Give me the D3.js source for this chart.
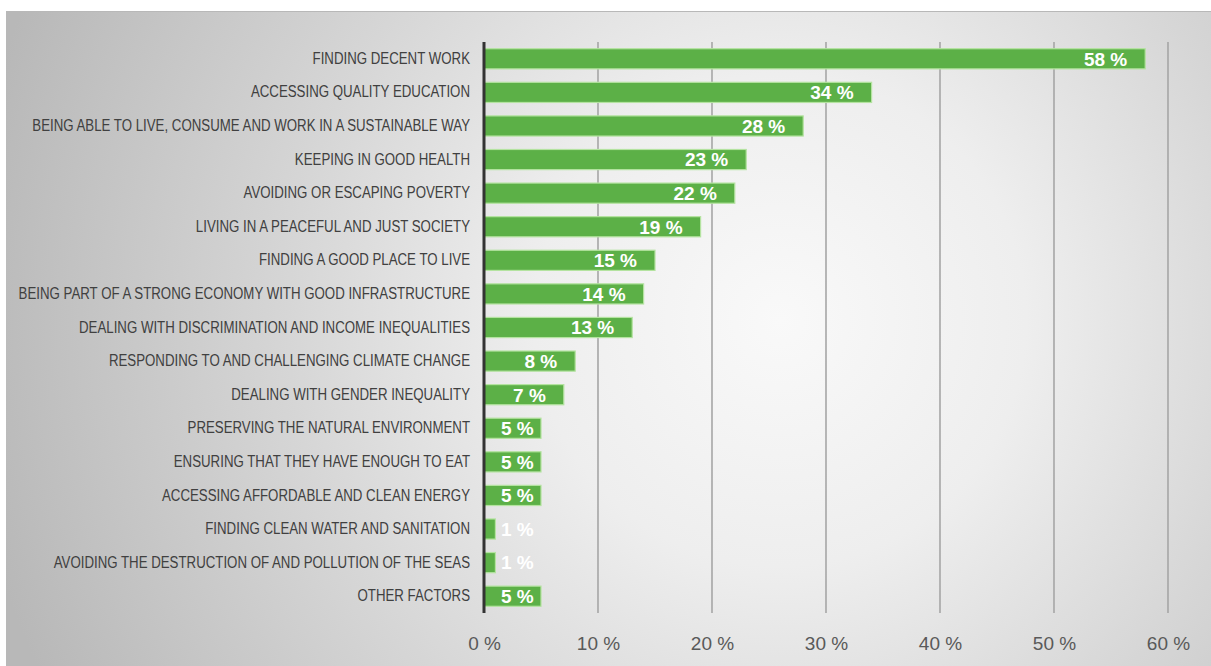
<!DOCTYPE html>
<html>
<head>
<meta charset="utf-8">
<script src="https://cdn.jsdelivr.net/npm/d3@7"></script>
<style>
  html, body { margin: 0; padding: 0; background: #ffffff; }
  svg { display: block; }
</style>
</head>
<body>
<svg id="chart" width="1211" height="666"></svg>
<script>
// Share of respondents naming each factor
const categories = [
  "FINDING DECENT WORK",
  "ACCESSING QUALITY EDUCATION",
  "BEING ABLE TO LIVE, CONSUME AND WORK IN A SUSTAINABLE WAY",
  "KEEPING IN GOOD HEALTH",
  "AVOIDING OR ESCAPING POVERTY",
  "LIVING IN A PEACEFUL AND JUST SOCIETY",
  "FINDING A GOOD PLACE TO LIVE",
  "BEING PART OF A STRONG ECONOMY WITH GOOD INFRASTRUCTURE",
  "DEALING WITH DISCRIMINATION AND INCOME INEQUALITIES",
  "RESPONDING TO AND CHALLENGING CLIMATE CHANGE",
  "DEALING WITH GENDER INEQUALITY",
  "PRESERVING THE NATURAL ENVIRONMENT",
  "ENSURING THAT THEY HAVE ENOUGH TO EAT",
  "ACCESSING AFFORDABLE AND CLEAN ENERGY",
  "FINDING CLEAN WATER AND SANITATION",
  "AVOIDING THE DESTRUCTION OF AND POLLUTION OF THE SEAS",
  "OTHER FACTORS"
];
const values = [58, 34, 28, 23, 22, 19, 15, 14, 13, 8, 7, 5, 5, 5, 1, 1, 5];
const tickValues = [0, 10, 20, 30, 40, 50, 60];
const tickLabels = ["0 %", "10 %", "20 %", "30 %", "40 %", "50 %", "60 %"];

const svg = d3.select("#chart");
const W = 1211, H = 666;

// Panel background with soft radial shading
const defs = svg.append("defs");
const grad = defs.append("radialGradient")
  .attr("id", "bg")
  .attr("gradientUnits", "userSpaceOnUse")
  .attr("cx", 780).attr("cy", 320).attr("r", 820);
[[0, "#f9f9f9"], [0.3, "#eeeeee"], [0.6, "#d6d6d6"], [1, "#b8b8b8"]]
  .forEach(([o, c]) => grad.append("stop").attr("offset", o).attr("stop-color", c));

svg.append("rect")
  .attr("x", 6).attr("y", 11)
  .attr("width", W - 6).attr("height", H - 11)
  .attr("fill", "url(#bg)");
svg.append("line")
  .attr("x1", 6).attr("x2", W).attr("y1", 11.5).attr("y2", 11.5)
  .attr("stroke", "#b8b8b8").attr("stroke-width", 1);

const x = d3.scaleLinear().domain([0, 60]).range([484, 1168]);
const y = d3.scaleBand().domain(categories).range([42, 613]).paddingInner(0.4).paddingOuter(0.2);

// Vertical gridlines
svg.append("g")
  .selectAll("line")
  .data(tickValues.filter(t => t > 0))
  .join("line")
  .attr("x1", d => x(d)).attr("x2", d => x(d))
  .attr("y1", 42).attr("y2", 613)
  .attr("stroke", "#a6a6a6").attr("stroke-width", 1.6);

// Bars
svg.append("g")
  .selectAll("rect")
  .data(values)
  .join("rect")
  .attr("x", x(0))
  .attr("y", (d, i) => y(categories[i]))
  .attr("width", d => x(d) - x(0))
  .attr("height", y.bandwidth())
  .attr("fill", "#5cb047")
  .attr("stroke", "#b4e3a0")
  .attr("stroke-width", 1.2);

// Value axis along the bottom
const xAxis = d3.axisBottom(x)
  .tickValues(tickValues)
  .tickFormat((d, i) => tickLabels[i])
  .tickSize(0)
  .tickPadding(0);
const gx = svg.append("g").attr("transform", "translate(0,636)").call(xAxis);
gx.select(".domain").remove();
gx.selectAll("text")
  .attr("font-family", "'Liberation Sans', Arial, sans-serif")
  .attr("font-size", 19)
  .attr("fill", "#595959")
  .attr("dy", "0.74em");

// Category axis, set in a horizontally condensed sans
const squeeze = 0.84;
const labelGap = 14;
const yAxis = d3.axisLeft(y).tickSize(0).tickPadding(labelGap);
const gy = svg.append("g").attr("transform", `translate(${x(0)},0)`).call(yAxis);
gy.select(".domain").remove();
gy.selectAll("text")
  .attr("font-family", "'Liberation Sans', Arial, sans-serif")
  .attr("font-size", 15.8)
  .attr("fill", "#404040")
  .attr("x", -labelGap / squeeze)
  .attr("transform", `scale(${squeeze},1)`);

svg.append("line")
  .attr("x1", x(0)).attr("x2", x(0))
  .attr("y1", 42).attr("y2", 613)
  .attr("stroke", "#333333").attr("stroke-width", 3);

// Value labels at the inside end of each bar
const lbl = svg.append("g")
  .selectAll("text")
  .data(values)
  .join("text")
  .attr("font-family", "'Liberation Sans', Arial, sans-serif")
  .attr("font-weight", "bold")
  .attr("font-size", 19)
  .attr("fill", "#ffffff")
  .attr("y", (d, i) => y(categories[i]) + y.bandwidth() / 2)
  .attr("dy", "0.36em")
  .text(d => d + " %");

lbl.each(function (d) {
  const w = this.getComputedTextLength();
  const end = x(d) - 18;
  const start = Math.max(end - w, x(0) + 17);
  d3.select(this).attr("x", start);
});
</script>
</body>
</html>
